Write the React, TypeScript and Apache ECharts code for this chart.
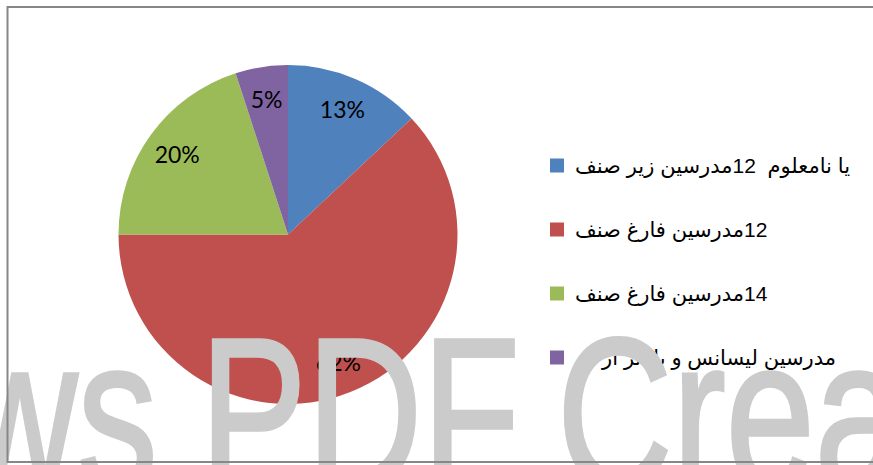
import React, { useEffect, useRef } from 'react';
import * as echarts from 'echarts';

// Legend categories (logical order; rendered right-to-left)
const categories = [
  'یا نامعلوم  12مدرسین زیر صنف',
  '12مدرسین فارغ صنف',
  '14مدرسین فارغ صنف',
  'مدرسین لیسانس و بالاتر از آن',
];
// Slice values (percent)
const values = [13, 62, 20, 5];
const colors = ['#4F81BD', '#C0504D', '#9BBB59', '#8064A2'];
// Watermark fragments visible in the picture
const watermarkWords = ['ws', 'PDF', 'Crea'];
const watermarkX = [-38, 200, 557];

export default function App() {
  const ref = useRef<HTMLDivElement>(null);
  useEffect(() => {
    const chart = echarts.init(ref.current!, null, { renderer: 'svg' });
    const R = 169.5;
    const center = [288, 234.5];
    const data = categories.map((name, i) => ({
      name,
      value: values[i],
      itemStyle: { color: colors[i] },
    }));
    const labelData = categories.map((name, i) => ({
      name,
      value: values[i],
    }));
    chart.setOption({
      animation: false,
      backgroundColor: '#ffffff',
      legend: {
        orient: 'vertical',
        left: 550,
        top: 155,
        padding: 0,
        itemWidth: 14,
        itemHeight: 14,
        itemGap: 43,
        icon: 'rect',
        selectedMode: false,
        data: categories.map((name, i) => ({ name, itemStyle: { color: colors[i] } })),
        formatter: (name: string) => '\u200F' + name,
        textStyle: {
          fontSize: 21,
          color: '#000000',
          fontFamily: '"Liberation Sans", "DejaVu Sans", sans-serif',
          padding: [0, 0, 0, 6],
        },
      },
      series: [
        {
          type: 'pie',
          center,
          radius: [0, R],
          startAngle: 90,
          clockwise: true,
          label: { show: false },
          labelLine: { show: false },
          emphasis: { disabled: true },
          silent: true,
          data,
        },
        {
          type: 'pie',
          center,
          radius: [R * 0.58, R],
          startAngle: 90,
          clockwise: true,
          avoidLabelOverlap: false,
          itemStyle: { color: 'rgba(0,0,0,0)' },
          label: {
            show: true,
            position: 'inside',
            formatter: (p: any) => p.value + '%',
            fontSize: 23,
            color: '#000000',
            fontFamily: 'Lato, "Liberation Sans", sans-serif',
          },
          labelLine: { show: false },
          emphasis: { disabled: true },
          silent: true,
          data: labelData,
        },
      ],
      graphic: [
        ...watermarkWords.map((w, i) => ({
          type: 'text',
          x: watermarkX[i],
          y: 413,
          scaleY: 1.35,
          z: 100,
          silent: true,
          style: {
            text: w,
            fontSize: 160,
            fontFamily: '"Liberation Sans", Arial, sans-serif',
            fill: '#cbcbcb',
            stroke: '#cbcbcb',
            lineWidth: 2.5,
            align: 'left',
            verticalAlign: 'middle',
          },
        })),
        {
          type: 'rect',
          z: 110,
          silent: true,
          shape: { x: 7.5, y: 7, width: 900, height: 455 },
          style: { fill: 'transparent', stroke: '#878787', lineWidth: 2 },
        },
      ],
    });
    return () => chart.dispose();
  }, []);
  return (
    <div
      ref={ref}
      style={{ position: 'absolute', left: 0, top: 0, width: 873, height: 465 }}
    />
  );
}
